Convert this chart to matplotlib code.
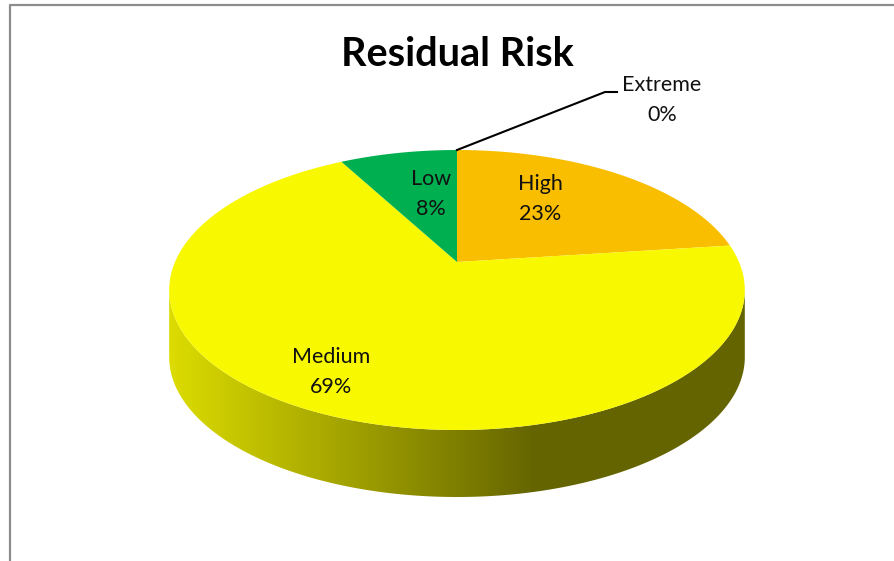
import numpy as np
import matplotlib.pyplot as plt
from matplotlib.patches import Polygon
from matplotlib.colors import LinearSegmentedColormap

# Dados do grafico
categorias = ["Extreme", "High", "Medium", "Low"]
percentuais = [0, 23, 69, 8]
cores = ["#C00000", "#FABE00", "#F8F800", "#00B050"]

# posicao dos rotulos (pixels)
pos_rotulos = {"Extreme": (662, 100), "High": (540, 199), "Medium": (331, 372), "Low": (431, 194)}

plt.rcParams['font.family'] = ['Lato', 'DejaVu Sans']

fig = plt.figure(figsize=(8.94, 5.61), dpi=100)
ax = fig.add_axes([0, 0, 1, 1])

# pizza unitaria so para obter os angulos das fatias
wedges, _ = ax.pie(percentuais, startangle=90, counterclock=False, colors=cores)
angulos = [(w.theta1, w.theta2) for w in wedges]
for w in wedges:
    w.remove()

# parametros da perspectiva 3D (estilo Excel)
cx, cy, rx, ry, k, prof = 457, 262, 282, 134.4, 0.2, 67


def projeta(t_graus, r=1.0):
    t = np.radians(t_graus)
    u, v = r * np.cos(t), r * np.sin(t)
    s = 1 + k * v
    return cx + rx * u / s, cy - ry * v / s


# lateral (parte da frente)
a = np.degrees(np.arcsin(k))
ts = np.linspace(180 + a, 360 - a, 300)
xs, ys = projeta(ts)
verts = np.vstack([np.column_stack([xs, ys]), np.column_stack([xs[::-1], ys[::-1] + prof])])
lateral = Polygon(verts, facecolor="none", edgecolor="none")
ax.add_patch(lateral)

cmap_lat = LinearSegmentedColormap.from_list(
    "lat", [(0, "#DCDC00"), (0.64, "#646400"), (1, "#646400")])
grad = np.linspace(0, 1, 512).reshape(1, -1)
im = ax.imshow(grad, cmap=cmap_lat, extent=[xs.min(), xs.max(), ys.max() + prof + 2, ys.min() - 2],
               aspect="auto", interpolation="bilinear")
im.set_clip_path(lateral)

# topo das fatias
for (t1, t2), cor in zip(angulos, cores):
    if t2 - t1 <= 0:
        continue
    tt = np.linspace(t1, t2, 200)
    px, py = projeta(tt)
    pts = np.vstack([[cx, cy], np.column_stack([px, py])])
    ax.add_patch(Polygon(pts, facecolor=cor, edgecolor="none"))

# rotulos
for cat, pct in zip(categorias, percentuais):
    x, y = pos_rotulos[cat]
    ax.text(x, y, f"{cat}\n{pct}%", ha="center", va="center", fontsize=15.5,
            linespacing=1.65, color="#111111")

# linha guia do Extreme
t1, t2 = angulos[0]
sx, sy = projeta((t1 + t2) / 2)
ax.plot([sx, 605, 617], [sy, 92, 92], color="black", lw=1.5)

ax.text(457, 54, "Residual Risk", fontsize=28.5, fontweight="bold", ha="center", va="center")

# moldura
ax.plot([10, 10, 894], [561, 5, 5], color="#8C8C8C", lw=1.6, solid_capstyle="butt")

ax.set_xlim(0, 894)
ax.set_ylim(561, 0)
ax.axis("off")

fig.savefig("out.png", dpi=100)
